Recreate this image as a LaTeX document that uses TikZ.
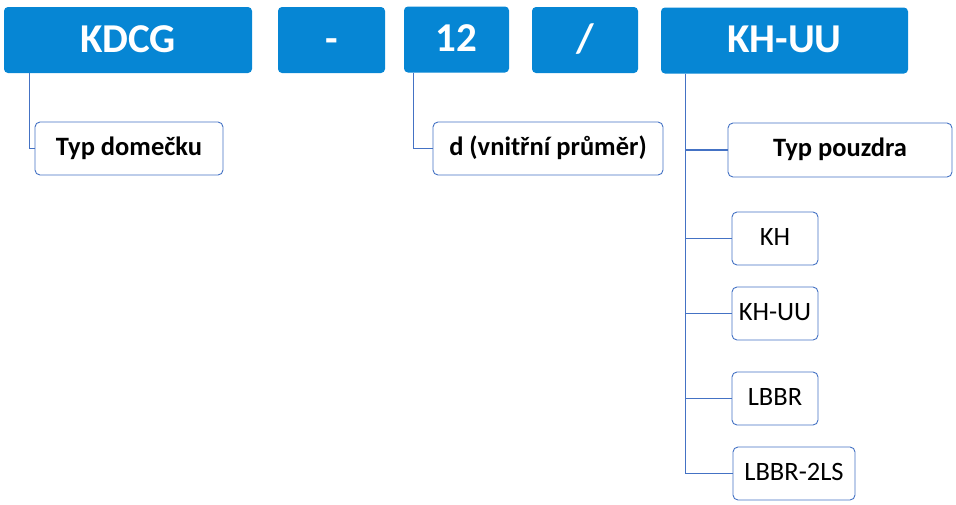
\documentclass[tikz,border=0pt]{standalone}
\usepackage{fontspec}
\setmainfont{Carlito}
\definecolor{topblue}{RGB}{6,134,212}
\definecolor{lineblue}{RGB}{68,114,196}
\tikzset{
  codebox/.style={fill=topblue, draw=none, rounded corners=4pt, text=white,
    font=\fontsize{41}{41}\selectfont\bfseries, inner sep=0pt,
    minimum height=66pt, text height=29pt, text depth=5pt},
  subbox/.style={draw=lineblue, line width=0.9pt, fill=white, rounded corners=5pt,
    inner sep=0pt, minimum height=53pt, font=\fontsize{26.5}{26.5}\selectfont,
    text height=18pt, text depth=5pt},
  boldsub/.style={subbox, font=\fontsize{26.5}{26.5}\selectfont\bfseries},
  conn/.style={draw=lineblue, line width=1.1pt}
}
\begin{document}
\begin{tikzpicture}[x=1pt,y=-1pt]
\useasboundingbox (0,0) rectangle (956,504);
% top row
\node[codebox, minimum width=248pt] (kdcg)  at (128,40)   {KDCG};
\node[codebox, minimum width=107pt] (dash)  at (331.5,40) {-};
\node[codebox, minimum width=105pt] (num)   at (456.5,39.5) {12};
\node[codebox, minimum width=106pt] (slash) at (585,40)   {/};
\node[codebox, minimum width=247pt] (khuu)  at (784.5,40.5) {KH-UU};
% sub boxes
\node[boldsub, minimum width=188pt] (tdom) at (129,148.5) {Typ domečku};
\node[boldsub, minimum width=230pt] (dbox) at (548,148.5) {d (vnitřní průměr)};
\node[boldsub, minimum width=224pt, minimum height=54pt] (tp) at (840,150) {Typ pouzdra};
\node[subbox, minimum width=86pt]  (kh)   at (775,238.5) {KH};
\node[subbox, minimum width=86pt]  (khuu2) at (775,313.5) {KH-UU};
\node[subbox, minimum width=86pt]  (lbbr) at (775,398.5) {LBBR};
\node[subbox, minimum width=122pt] (l2ls) at (794,473.5) {LBBR-2LS};
% connectors
\draw[conn] ([xshift=26pt]kdcg.south west) |- (tdom.west);
\draw[conn] ([xshift=10pt]num.south west) |- (dbox.west);
\coordinate (trunk) at ([xshift=25pt]khuu.south west);
\draw[conn] (trunk) |- (l2ls.west);
\draw[conn] (trunk |- tp.west) -- (tp.west);
\draw[conn] (trunk |- kh.west) -- (kh.west);
\draw[conn] (trunk |- khuu2.west) -- (khuu2.west);
\draw[conn] (trunk |- lbbr.west) -- (lbbr.west);
\end{tikzpicture}
\end{document}
